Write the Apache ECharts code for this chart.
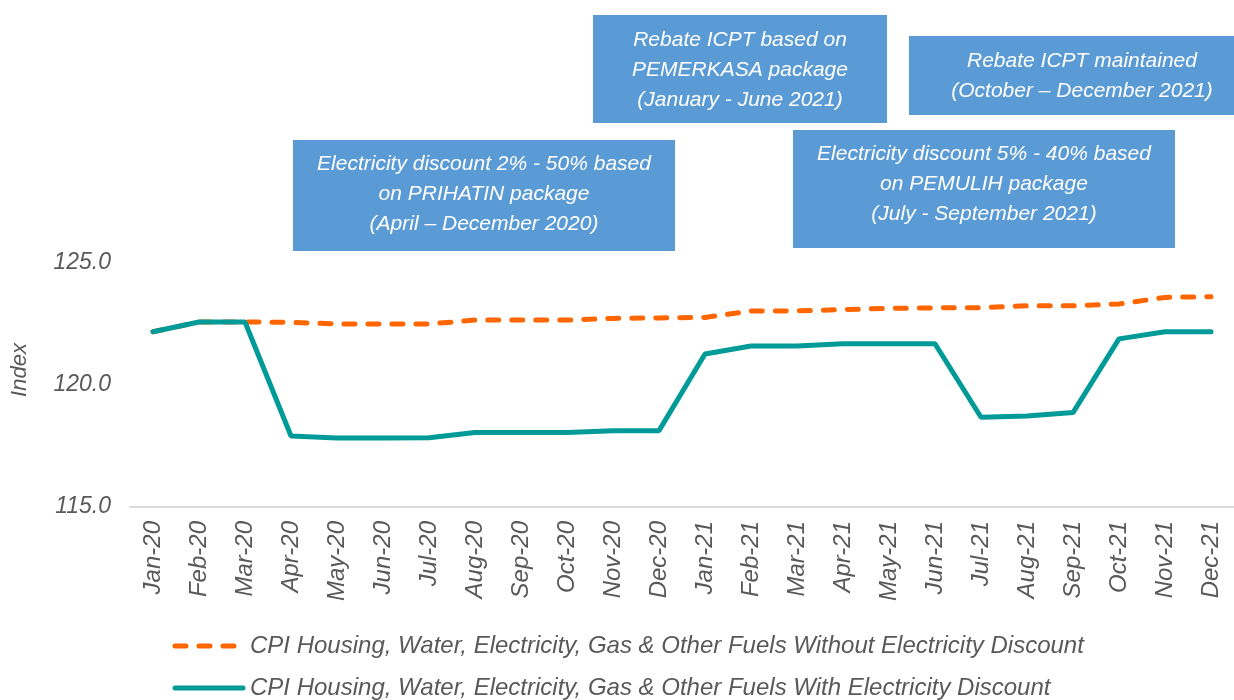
<!DOCTYPE html>
<html>
<head>
<meta charset="utf-8">
<script src="https://cdn.jsdelivr.net/npm/echarts@6/dist/echarts.min.js"></script>
<style>
  html, body { margin: 0; padding: 0; background: #ffffff; }
  #chart { width: 1234px; height: 700px; }
</style>
</head>
<body>
<div id="chart"></div>
<script>
// Months, Jan 2020 – Dec 2021
const months = ['Jan-20','Feb-20','Mar-20','Apr-20','May-20','Jun-20','Jul-20','Aug-20','Sep-20','Oct-20','Nov-20','Dec-20',
                'Jan-21','Feb-21','Mar-21','Apr-21','May-21','Jun-21','Jul-21','Aug-21','Sep-21','Oct-21','Nov-21','Dec-21'];

// CPI index without the electricity discount
const withoutDiscount = [122.18, 122.58, 122.58, 122.57, 122.50, 122.50, 122.50, 122.66, 122.66, 122.66, 122.73, 122.75,
                         122.77, 123.03, 123.04, 123.09, 123.14, 123.16, 123.17, 123.25, 123.25, 123.32, 123.59, 123.62];

// CPI index with the electricity discount
const withDiscount = [122.18, 122.58, 122.58, 117.91, 117.83, 117.83, 117.84, 118.05, 118.05, 118.05, 118.13, 118.13,
                      121.27, 121.60, 121.60, 121.69, 121.69, 121.69, 118.68, 118.73, 118.87, 121.89, 122.18, 122.18];

const seriesNames = [
  'CPI Housing, Water, Electricity, Gas & Other Fuels Without Electricity Discount',
  'CPI Housing, Water, Electricity, Gas & Other Fuels With Electricity Discount'
];

const yTicks = [115, 120, 125];

// Policy notes shown in the blue boxes: text lines, box [x, y, w, h], text centre x, first line y
const notes = [
  { lines: ['Electricity discount 2% - 50% based', 'on PRIHATIN package', '(April \u2013 December 2020)'], box: [293, 140, 382, 111], cx: 484, y0: 164 },
  { lines: ['Rebate ICPT based on', 'PEMERKASA package', '(January - June 2021)'], box: [593, 15, 294, 108], cx: 740, y0: 40 },
  { lines: ['Rebate ICPT maintained', '(October \u2013 December 2021)'], box: [909, 36, 346, 79], cx: 1082, y0: 61 },
  { lines: ['Electricity discount 5% - 40% based', 'on PEMULIH package', '(July - September 2021)'], box: [793, 130, 382, 118], cx: 984, y0: 154 }
];

const FONT = '"Liberation Sans", Arial, sans-serif';
const GREY = '#595959';
const TEAL = '#009B98';
const ORANGE = '#FF6600';
const BOX = '#5B9BD5';

const graphics = [];
notes.forEach(n => {
  const [x, y, w, h] = n.box;
  graphics.push({
    type: 'rect', left: x, top: y, z: 10,
    shape: { width: w, height: h },
    style: { fill: BOX }
  });
  const lineH = 30.3;
  n.lines.forEach((t, i) => {
    graphics.push({
      type: 'text', z: 11,
      x: n.cx, y: n.y0 + i * lineH,
      style: {
        text: t, fill: '#ffffff',
        font: 'italic 21px ' + FONT,
        align: 'center', verticalAlign: 'middle'
      }
    });
  });
});

// y-axis title
graphics.push({
  type: 'text', x: 20, y: 370, rotation: Math.PI / 2,
  style: { text: 'Index', fill: GREY, font: 'italic 22px ' + FONT, align: 'center', verticalAlign: 'middle' }
});

// Legend: line sample + series name per row
const legendRows = [
  { name: seriesNames[0], color: ORANGE, dash: [11, 13], y: 646 },
  { name: seriesNames[1], color: TEAL, dash: null, y: 688 }
];
legendRows.forEach(r => {
  graphics.push({
    type: 'line',
    shape: { x1: 175, y1: r.y, x2: 243, y2: r.y },
    style: { stroke: r.color, lineWidth: 5, lineCap: 'round', lineDash: r.dash }
  });
  graphics.push({
    type: 'text', x: 250, y: r.y,
    style: { text: r.name, fill: GREY, font: 'italic 24px ' + FONT, align: 'left', verticalAlign: 'middle' }
  });
});

const chart = echarts.init(document.getElementById('chart'), null, { renderer: 'canvas' });
chart.setOption({
  animation: false,
  backgroundColor: '#ffffff',
  grid: { left: 130, top: 263, width: 1110, bottom: 193, containLabel: false },
  xAxis: {
    type: 'category',
    data: months,
    boundaryGap: true,
    axisLine: { show: true, lineStyle: { color: '#D9D9D9', width: 2 } },
    axisTick: { show: false },
    axisLabel: {
      rotate: 90, interval: 0, margin: 14,
      color: GREY, fontStyle: 'italic', fontSize: 24, fontFamily: FONT
    },
    splitLine: { show: false }
  },
  yAxis: {
    type: 'value',
    min: yTicks[0], max: yTicks[yTicks.length - 1], interval: yTicks[1] - yTicks[0],
    axisLine: { show: false },
    axisTick: { show: false },
    splitLine: { show: false },
    axisLabel: {
      color: GREY, fontStyle: 'italic', fontSize: 23, fontFamily: FONT, margin: 19,
      formatter: v => v.toFixed(1)
    }
  },
  legend: { show: false },
  series: [
    {
      name: seriesNames[0],
      type: 'line',
      data: withoutDiscount,
      symbol: 'none',
      z: 2,
      lineStyle: { color: ORANGE, width: 5, type: [11, 13], cap: 'round' },
      itemStyle: { color: ORANGE }
    },
    {
      name: seriesNames[1],
      type: 'line',
      data: withDiscount,
      symbol: 'none',
      z: 3,
      lineStyle: { color: TEAL, width: 5, cap: 'round' },
      itemStyle: { color: TEAL }
    }
  ],
  graphic: graphics
});
</script>
</body>
</html>
